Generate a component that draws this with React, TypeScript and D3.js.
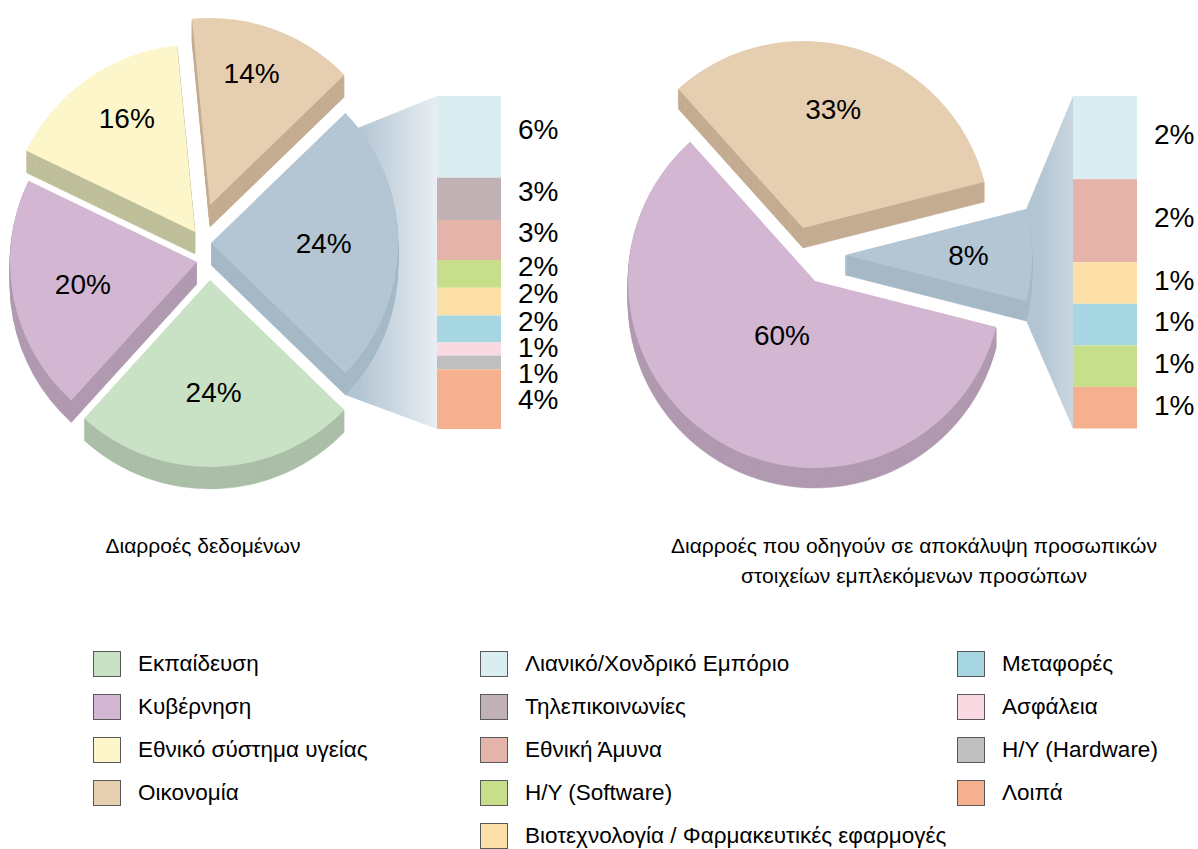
import React, { useRef, useEffect } from 'react';
import * as d3 from 'd3';

// --- data ---
const leftPieNames = ['Εκπαίδευση', 'Κυβέρνηση', 'Εθνικό σύστημα υγείας', 'Οικονομία', 'Λοιποί κλάδοι'];
const leftPieValues = [24, 20, 16, 14, 24];
const leftBarNames = [
  'Λιανικό/Χονδρικό Εμπόριο', 'Τηλεπικοινωνίες', 'Εθνική Άμυνα', 'Η/Υ (Software)',
  'Βιοτεχνολογία / Φαρμακευτικές εφαρμογές', 'Μεταφορές', 'Ασφάλεια', 'Η/Υ (Hardware)', 'Λοιπά'
];
const leftBarValues = [5.9, 3.05, 2.9, 2.0, 2.0, 1.95, 0.95, 1.0, 4.3];
const leftTitle = ['Διαρροές δεδομένων'];

const rightPieNames = ['Κυβέρνηση', 'Οικονομία', 'Λοιποί κλάδοι'];
const rightPieValues = [60, 33, 8];
const rightBarNames = [
  'Λιανικό/Χονδρικό Εμπόριο', 'Εθνική Άμυνα', 'Βιοτεχνολογία / Φαρμακευτικές εφαρμογές',
  'Μεταφορές', 'Η/Υ (Software)', 'Λοιπά'
];
const rightBarValues = [2, 2, 1, 1, 1, 1];
const rightTitle = ['Διαρροές που οδηγούν σε αποκάλυψη προσωπικών', 'στοιχείων εμπλεκόμενων προσώπων'];

const legendColumns = [
  ['Εκπαίδευση', 'Κυβέρνηση', 'Εθνικό σύστημα υγείας', 'Οικονομία'],
  ['Λιανικό/Χονδρικό Εμπόριο', 'Τηλεπικοινωνίες', 'Εθνική Άμυνα', 'Η/Υ (Software)', 'Βιοτεχνολογία / Φαρμακευτικές εφαρμογές'],
  ['Μεταφορές', 'Ασφάλεια', 'Η/Υ (Hardware)', 'Λοιπά']
];

// --- styles ---
const colors: Record<string, string> = {
  'Εκπαίδευση': '#c9e1c5',
  'Κυβέρνηση': '#d2b6d2',
  'Εθνικό σύστημα υγείας': '#fdf6cb',
  'Οικονομία': '#e6cfb0',
  'Λοιποί κλάδοι': '#b4c6d4',
  'Λιανικό/Χονδρικό Εμπόριο': '#daedf1',
  'Τηλεπικοινωνίες': '#bfb1b4',
  'Εθνική Άμυνα': '#e4b4aa',
  'Η/Υ (Software)': '#c7de8a',
  'Βιοτεχνολογία / Φαρμακευτικές εφαρμογές': '#fcdfa6',
  'Μεταφορές': '#a7d6e3',
  'Ασφάλεια': '#fbd9e3',
  'Η/Υ (Hardware)': '#bfbfbf',
  'Λοιπά': '#f5b18f'
};
const sideColors: Record<string, string> = {
  'Εκπαίδευση': '#abbfa8',
  'Κυβέρνηση': '#b19ab1',
  'Εθνικό σύστημα υγείας': '#bfbf9a',
  'Οικονομία': '#c4ad92',
  'Λοιποί κλάδοι': '#a6b9c6'
};

const FONT = "'Liberation Sans', Arial, sans-serif";

const charts = [
  {
    names: leftPieNames, values: leftPieValues, barNames: leftBarNames, barValues: leftBarValues,
    title: leftTitle, titleX: 203,
    cx: 205, cy: 245, r: 187, depth: 22,
    explode: [[5, 35], [-8, 17], [-10, -13], [5, -40], [6, -2]],
    barX: 437, barW: 64, barTop: 96, barBottom: 429,
    labelShift: -8, connInset: 6
  },
  {
    names: rightPieNames, values: rightPieValues, barNames: rightBarNames, barValues: rightBarValues,
    title: rightTitle, titleX: 914,
    cx: 820, cy: 262, r: 187, depth: 20,
    explode: [[-5, 19], [-17, -34], [25, -7]],
    barX: 1073, barW: 64, barTop: 96, barBottom: 428.5,
    labelShift: -3, connInset: 0
  }
];

const App = () => {
  const svgRef = useRef<SVGSVGElement>(null);

  useEffect(() => {
    const svg = d3.select(svgRef.current);
    svg.selectAll('*').remove();
    const defs = svg.append('defs');

    charts.forEach((c, ci) => {
      const g = svg.append('g');
      const total = d3.sum(c.values);
      const otherIdx = c.values.length - 1;
      const otherAngle = (2 * Math.PI * c.values[otherIdx]) / total;
      const start = Math.PI / 2 + otherAngle / 2;

      const pie = d3.pie<number>().sort(null).value(d => d)
        .startAngle(start).endAngle(start + 2 * Math.PI);
      const arcs = pie(c.values);
      const arc = d3.arc<d3.PieArcDatum<number>>().innerRadius(0).outerRadius(c.r);

      const apex = arcs.map((a, i) => [c.cx + c.explode[i][0], c.cy + c.explode[i][1]]);

      // connector between "other" slice and the bar
      const o = arcs[otherIdx];
      const [ox, oy] = apex[otherIdx];
      const inset = (c.connInset * Math.PI) / 180;
      const topPt = [ox + c.r * Math.sin(o.startAngle + inset), oy - c.r * Math.cos(o.startAngle + inset)];
      const botPt = [ox + c.r * Math.sin(o.endAngle), oy - c.r * Math.cos(o.endAngle) + c.depth];
      const gradId = `conn-grad-${ci}`;
      const gx0 = Math.min(topPt[0], botPt[0]);
      const grad = defs.append('linearGradient').attr('id', gradId)
        .attr('gradientUnits', 'userSpaceOnUse')
        .attr('x1', gx0).attr('x2', gx0 + 125).attr('y1', 0).attr('y2', 0);
      grad.append('stop').attr('offset', '0%').attr('stop-color', '#b2c5d3');
      grad.append('stop').attr('offset', '12%').attr('stop-color', '#b4c6d4');
      grad.append('stop').attr('offset', '100%').attr('stop-color', '#ffffff');

      g.append('path')
        .attr('d', d3.line()([
          topPt as [number, number],
          [c.barX, c.barTop],
          [c.barX, c.barBottom],
          botPt as [number, number]
        ]) + 'Z')
        .attr('fill', `url(#${gradId})`);

      // 3D slices: side (stacked copies) then top face
      const order = arcs.map((_, i) => i).sort((a, b) => apex[a][1] - apex[b][1]);
      order.forEach(i => {
        const name = c.names[i];
        const sg = g.append('g');
        for (let k = c.depth; k >= 1; k--) {
          sg.append('path')
            .attr('d', arc(arcs[i]))
            .attr('transform', `translate(${apex[i][0]},${apex[i][1] + k})`)
            .attr('fill', sideColors[name])
            .attr('stroke', sideColors[name])
            .attr('stroke-width', 0.5);
        }
        sg.append('path')
          .attr('d', arc(arcs[i]))
          .attr('transform', `translate(${apex[i][0]},${apex[i][1]})`)
          .attr('fill', colors[name]);
      });

      // slice labels
      arcs.forEach((a, i) => {
        const theta = a.endAngle - a.startAngle;
        const mid = (a.startAngle + a.endAngle) / 2;
        const dist = (4 * c.r * Math.sin(theta / 2)) / (3 * theta);
        const dx = Math.sin(mid), dy = -Math.cos(mid);
        const lift = 20 * Math.max(0, -dy);
        g.append('text')
          .attr('x', apex[i][0] + dist * dx)
          .attr('y', apex[i][1] + dist * dy - lift)
          .attr('dy', '0.35em')
          .attr('text-anchor', 'middle')
          .style('font-family', FONT)
          .style('font-size', '28px')
          .style('fill', '#000')
          .text(`${Math.round(c.values[i])}%`);
      });

      // bar of pie
      const barSum = d3.sum(c.barValues);
      const y = d3.scaleLinear().domain([0, barSum]).range([c.barTop, c.barBottom]);
      const cum = [0];
      c.barValues.forEach(v => cum.push(cum[cum.length - 1] + v));
      c.barValues.forEach((v, i) => {
        g.append('rect')
          .attr('x', c.barX)
          .attr('y', y(cum[i]))
          .attr('width', c.barW)
          .attr('height', y(cum[i + 1]) - y(cum[i]))
          .attr('fill', colors[c.barNames[i]]);
      });

      // bar labels with simple collision avoidance
      let prev = -Infinity;
      c.barValues.forEach((v, i) => {
        let ly = (y(cum[i]) + y(cum[i + 1])) / 2 + c.labelShift;
        if (ly < prev + 26) ly = prev + 26;
        prev = ly;
        g.append('text')
          .attr('x', c.barX + c.barW + 17)
          .attr('y', ly)
          .attr('dy', '0.35em')
          .style('font-family', FONT)
          .style('font-size', '28px')
          .style('fill', '#000')
          .text(`${Math.round(v)}%`);
      });

      // title
      c.title.forEach((line, li) => {
        g.append('text')
          .attr('x', c.titleX)
          .attr('y', 553 + li * 30)
          .attr('text-anchor', 'middle')
          .style('font-family', FONT)
          .style('font-size', '21px')
          .style('fill', '#000')
          .text(line);
      });
    });

    // legend
    const legendX = [93, 480, 957];
    const rowY = d3.scaleLinear().domain([0, 1]).range([664, 707]);
    legendColumns.forEach((col, ci) => {
      col.forEach((name, ri) => {
        const lg = svg.append('g').attr('transform', `translate(${legendX[ci]},${rowY(ri)})`);
        lg.append('rect')
          .attr('x', 0.5).attr('y', -12.5)
          .attr('width', 27).attr('height', 25)
          .attr('fill', colors[name])
          .attr('stroke', '#595959')
          .attr('stroke-width', 1);
        lg.append('text')
          .attr('x', 45)
          .attr('y', 0)
          .attr('dy', '0.32em')
          .style('font-family', FONT)
          .style('font-size', '22.5px')
          .style('fill', '#000')
          .text(name);
      });
    });
  }, []);

  return (
    <svg
      ref={svgRef}
      width={1198}
      height={849}
      style={{ position: 'absolute', left: 0, top: 0, background: '#fff' }}
    />
  );
};

export default App;
